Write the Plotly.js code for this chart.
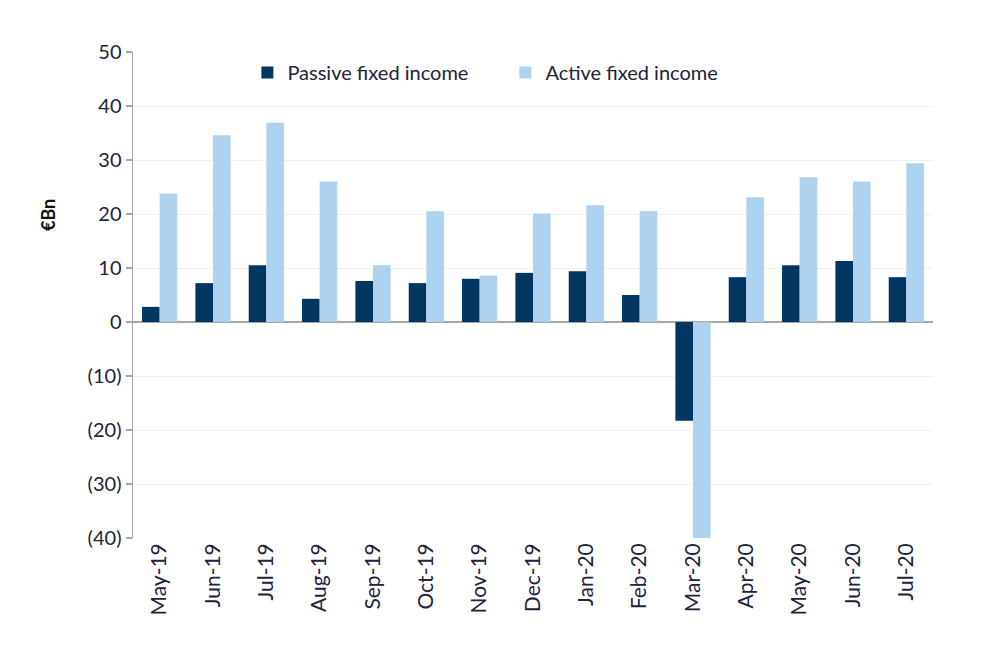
<!DOCTYPE html>
<html>
<head>
<meta charset="utf-8">
<script src="https://cdn.plot.ly/plotly-3.0.1.min.js"></script>
<style>html,body{margin:0;padding:0;background:#fff;}#chart{width:1006px;height:650px;}</style>
</head>
<body>
<div id="chart"></div>
<script>
const months = ["May-19","Jun-19","Jul-19","Aug-19","Sep-19","Oct-19","Nov-19","Dec-19","Jan-20","Feb-20","Mar-20","Apr-20","May-20","Jun-20","Jul-20"];
const passive = [2.8, 7.2, 10.5, 4.3, 7.6, 7.2, 8.0, 9.1, 9.4, 5.0, -18.3, 8.3, 10.5, 11.3, 8.3];
const active = [23.8, 34.6, 36.9, 26.0, 10.5, 20.5, 8.6, 20.1, 21.6, 20.5, -40, 23.1, 26.8, 26.0, 29.4];
const yTickVals = [-40, -30, -20, -10, 0, 10, 20, 30, 40, 50];
const yTickText = ["(40)", "(30)", "(20)", "(10)", "0", "10", "20", "30", "40", "50"];

const font = "Lato, 'Open Sans', sans-serif";
const txt = "#23233a";
const traces = [
  {type: "bar", name: "Passive fixed income", x: months, y: passive, marker: {color: "#00365F"}},
  {type: "bar", name: "Active fixed income", x: months, y: active, marker: {color: "#AED3F0"}}
];
const layout = {
  width: 1006, height: 650,
  margin: {l: 133, r: 73, t: 52, b: 112},
  paper_bgcolor: "#fff", plot_bgcolor: "#fff",
  barmode: "group", bargap: 0.34, bargroupgap: 0,
  font: {family: font, size: 19, color: txt},
  showlegend: true,
  legend: {orientation: "h", x: 0.143, y: 0.998, xanchor: "left", yanchor: "top",
           font: {family: font, size: 20, color: txt}, bgcolor: "rgba(255,255,255,0)",
           traceorder: "normal", itemwidth: 30, entrywidth: 213},
  xaxis: {type: "category", tickangle: -90, tickfont: {family: font, size: 21, color: txt},
          showgrid: false, showline: false, zeroline: false, ticks: "", fixedrange: true},
  yaxis: {range: [-40, 50], tickvals: yTickVals, ticktext: yTickText,
          tickfont: {family: font, size: 20, color: txt},
          showgrid: true, gridcolor: "#f0f0f0", gridwidth: 1,
          zeroline: true, zerolinecolor: "#a6a6a6", zerolinewidth: 1.5,
          showline: true, linecolor: "#a6a6a6", linewidth: 1.5,
          ticks: "outside", ticklen: 6, tickcolor: "#a6a6a6", tickwidth: 1.5},
  annotations: [{text: "<b>€Bn</b>", xref: "paper", yref: "paper", x: -0.106, y: 0.665,
                 textangle: -90, showarrow: false, font: {family: font, size: 18, color: "#111"},
                 xanchor: "center", yanchor: "middle"}]
};
Plotly.newPlot("chart", traces, layout, {displayModeBar: false, staticPlot: true});
</script>
</body>
</html>
